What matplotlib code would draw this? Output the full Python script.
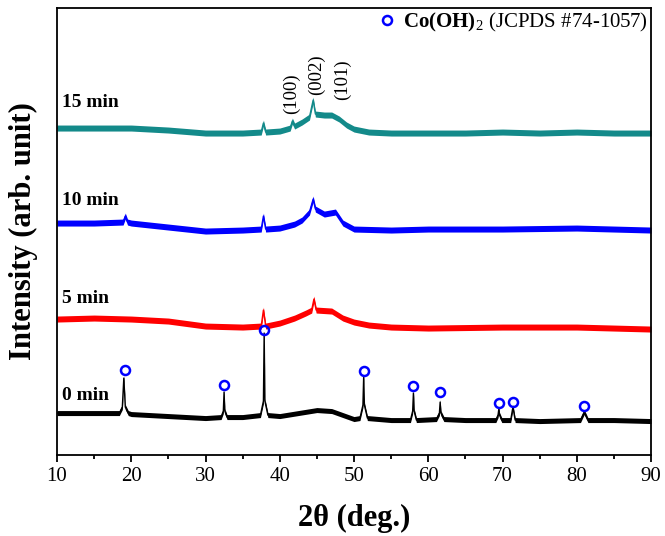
import numpy as np
import matplotlib
matplotlib.use("Agg")
import matplotlib.pyplot as plt
from matplotlib.ticker import MultipleLocator

plt.rcParams['font.family'] = ['Liberation Serif', 'DejaVu Serif']
plt.rcParams['mathtext.fontset'] = 'custom'
plt.rcParams['mathtext.rm'] = 'Liberation Serif'
plt.rcParams['mathtext.bf'] = 'Liberation Serif:bold'

# XRD traces, 2theta (deg) vs intensity (arb. unit, stacked)
x_15 = [10, 15, 20, 25, 30, 35, 37.5, 37.8, 38.1, 40, 41.4, 41.7, 42.0, 43, 44.0, 44.5, 44.8,
        46, 47, 48, 49, 50, 52, 55, 60, 65, 70, 75, 80, 85, 90]
y_15 = [327, 327, 327, 325, 322, 322, 323, 332, 323, 324, 327, 334, 329, 333, 338, 355, 341,
        340, 340, 336, 330, 326, 323, 322, 322, 322, 323, 322, 323, 322, 322]

x_10 = [10, 15, 18.9, 19.2, 19.5, 20, 25, 30, 35, 37.5, 37.8, 38.1, 40, 42, 43, 44.0, 44.5, 44.8,
        46, 47.5, 48.5, 50, 55, 60, 70, 80, 90]
y_10 = [232, 232, 233, 239, 233, 232, 228, 224, 225, 226, 239, 226, 227, 231, 235, 243, 256, 246,
        241, 243, 232, 226, 225, 226, 226, 227, 225]

x_5 = [10, 15, 20, 25, 30, 35, 37.5, 37.8, 38.1, 40, 42, 43.5, 44.3, 44.6, 44.9, 47, 48.5,
       50, 52, 55, 60, 70, 80, 90]
y_5 = [136, 137, 136, 134, 129, 128, 129, 145, 129, 132, 137, 142, 145, 156, 145, 144, 137,
       133, 130, 128, 127, 128, 128, 126]

x_0 = [10, 15, 18.4, 18.8, 19.0, 19.2, 19.6, 20, 25, 30, 32.1, 32.4, 32.5, 32.6, 32.9, 35,
       37.4, 37.8, 37.9, 38.0, 38.4, 40, 45, 47, 50, 50.8, 51.2, 51.3, 51.4, 51.8, 55,
       57.6, 57.9, 58.0, 58.1, 58.4, 61.1, 61.5, 61.6, 61.7, 62.1, 65,
       69.1, 69.4, 69.5, 69.6, 69.9, 71.1, 71.4, 71.7, 75, 80.5, 81.0, 81.5, 85, 90]
y_0 = [42, 42, 42, 48, 77, 48, 42, 41, 39, 37, 38, 44, 63, 44, 38, 38,
       40, 54, 122, 54, 40, 39, 45, 44, 36, 37, 50, 78, 50, 37, 35,
       35, 44, 62, 44, 35, 36, 42, 53, 42, 36, 35,
       35, 40, 46, 40, 35, 35, 48, 35, 34, 35, 43, 35, 35, 34]

# Co(OH)2 reflections marked on the 0 min pattern
ref_x = [19.1, 32.5, 37.9, 51.3, 58.0, 61.6, 69.5, 71.4, 81.0]
ref_y = [85, 70, 125, 84, 69, 63, 52, 53, 49]

hkl = ['(100)', '(002)', '(101)']
hkl_x = [41.6, 44.9, 48.4]
hkl_y = [341, 360, 355]

names = ['0 min', '5 min', '10 min', '15 min']
name_y = [60, 157, 255, 353]

traces = [(x_0, y_0, 'black', 2.5), (x_5, y_5, 'red', 3.0),
          (x_10, y_10, 'blue', 3.0), (x_15, y_15, '#138a8a', 3.0)]

fig = plt.figure(figsize=(6.65, 5.36), dpi=100)
ax = fig.add_axes([0.0857, 0.151, 0.8933, 0.834])

for xs, ys, c, w in traces:
    xs = np.array(xs)
    ys = np.array(ys, dtype=float)
    ax.fill_between(xs, ys - w, ys + w, color=c, lw=0)
    ax.plot(xs, ys, color=c, lw=1.0)

ax.plot(ref_x, ref_y, 'o', mfc='none', mec='blue', mew=1.8, ms=6.5, ls='none',
        label=r'$\mathbf{Co(OH)}_{2}$ (JCPDS #74-1057)')

for t, xx, yy in zip(hkl, hkl_x, hkl_y):
    ax.text(xx, yy, t, rotation=90, ha='center', va='bottom', fontsize=13.5)

for t, yy in zip(names, name_y):
    ax.text(10.7, yy, t, ha='left', va='center', fontsize=14, fontweight='bold')

ax.legend(loc='upper right', frameon=False, fontsize=15, handletextpad=0.3,
          borderaxespad=0.0, handlelength=1.0, borderpad=0.15)

ax.set_xlim(10, 90)
ax.set_ylim(0, 447)
ax.xaxis.set_major_locator(MultipleLocator(10))
ax.xaxis.set_minor_locator(MultipleLocator(5))
ax.tick_params(axis='x', which='major', direction='out', length=5, width=1.3, labelsize=15)
ax.tick_params(axis='x', which='minor', direction='out', length=3, width=1.3)
ax.set_yticks([])
for s in ax.spines.values():
    s.set_linewidth(1.3)

ax.set_xlabel('2θ (deg.)', fontsize=22, fontweight='bold', labelpad=13)
ax.set_ylabel('Intensity (arb. unit)', fontsize=22, fontweight='bold', labelpad=14)

fig.savefig('out.png', dpi=100)
